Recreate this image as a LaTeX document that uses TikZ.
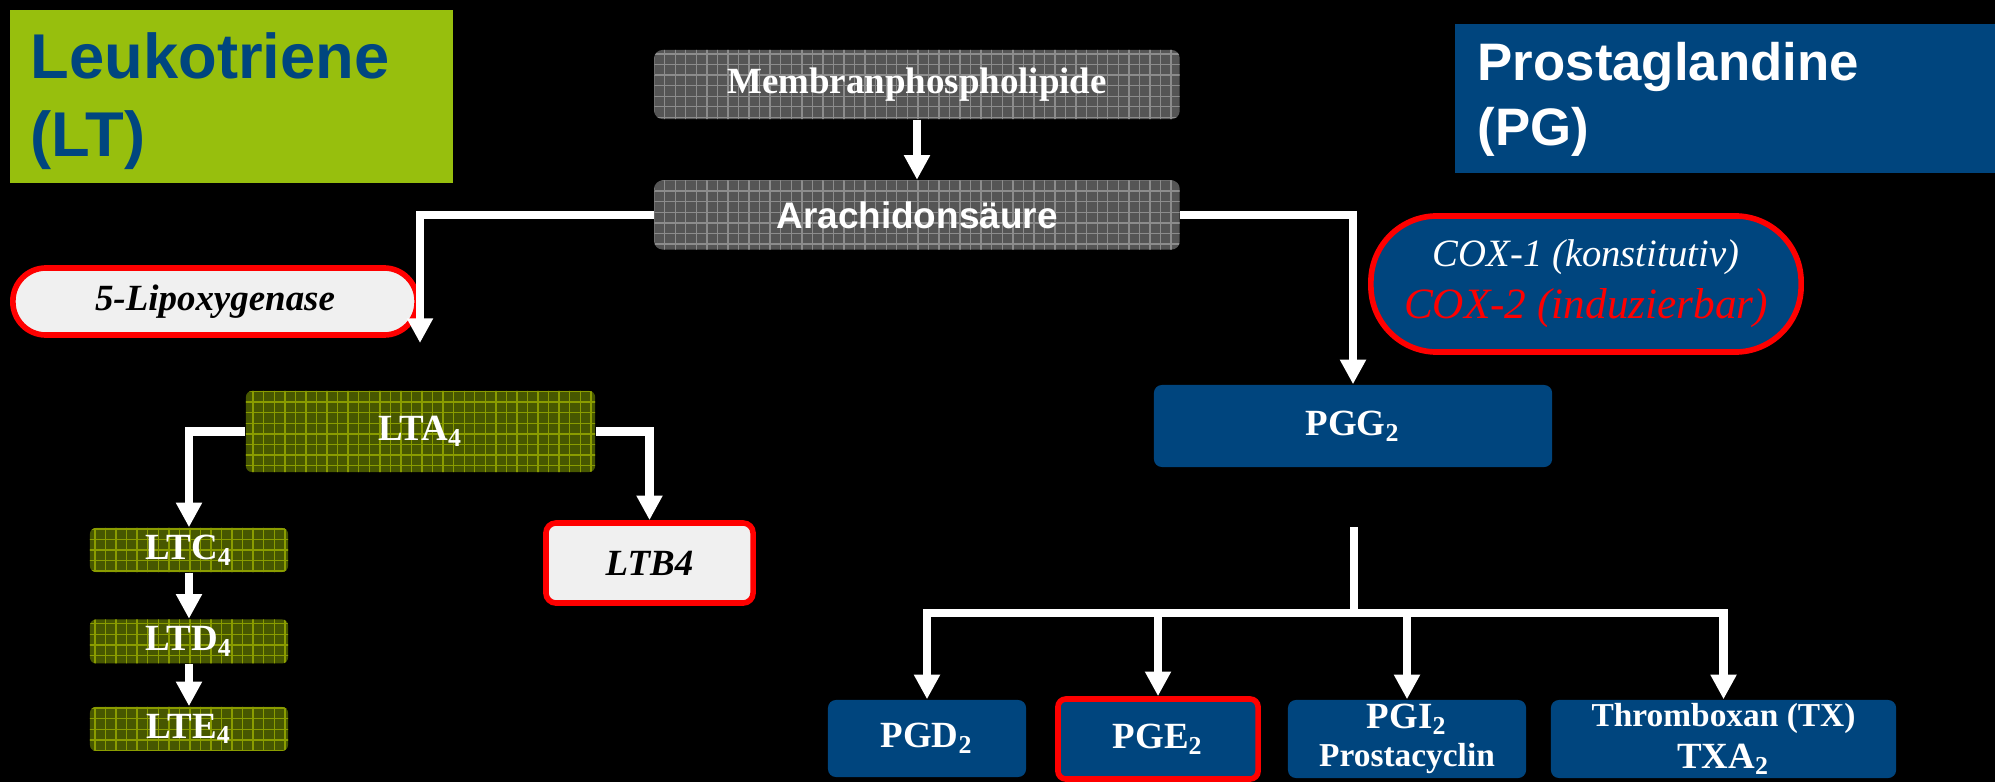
\documentclass[tikz,border=0pt]{standalone}
\usepackage{fontspec}
\setmainfont{Liberation Serif}
\setsansfont{Liberation Sans}
\usetikzlibrary{arrows.meta,patterns,positioning}

\definecolor{ltgreen}{HTML}{97BF0D}
\definecolor{ltblue}{HTML}{00467F}
\definecolor{pgblue}{HTML}{00457E}
\definecolor{ltolive}{HTML}{475700}
\definecolor{olivegrid}{HTML}{8A9C00}
\definecolor{boxgray}{HTML}{555555}
\definecolor{gridgray}{HTML}{8C8C8C}

\begin{document}
\begin{tikzpicture}[x=0.01cm, y=-0.01cm,
    titlebox/.style={rectangle, anchor=north west, align=left, inner ysep=0pt},
    graybox/.style={rectangle, rounded corners=0.08cm, minimum width=5.25cm, minimum height=0.69cm, inner sep=0pt, fill=boxgray, postaction={pattern=grid, pattern color=gridgray}, text=white, font=\bfseries\fontsize{10.5}{12}\selectfont},
    ltbox/.style={rectangle, rounded corners=0.06cm, minimum width=1.98cm, minimum height=0.44cm, inner sep=0pt, fill=ltolive, postaction={pattern=grid, pattern color=olivegrid}, text=white, font=\bfseries\fontsize{10.5}{12}\selectfont},
    pgbox/.style={rectangle, rounded corners=0.08cm, inner sep=0pt, fill=pgblue, text=white, align=center, font=\bfseries\fontsize{10.5}{12}\selectfont},
    enzyme/.style={rectangle, draw=red, line width=1.6pt, fill=gray!12, text=black, inner sep=0pt, font=\bfseries\itshape\fontsize{10.5}{12}\selectfont},
    arrow/.style={-{Triangle[width=7pt,length=7pt]}, draw=white, line width=2.3pt},
    wline/.style={draw=white, line width=2.3pt}
]

% Hintergrund
\path[use as bounding box, fill=black] (0,0) rectangle (1995,782);

% Titel
\node[titlebox, fill=ltgreen, text=ltblue, minimum height=1.73cm, text width=4.01cm, inner xsep=0.21cm,
      font=\sffamily\bfseries\fontsize{18}{22}\selectfont] (lt) at (9,9) {\rule{0pt}{15.8pt}Leukotriene\\(LT)};
\node[titlebox, fill=pgblue, text=white, minimum height=1.49cm, text width=4.95cm, inner xsep=0.23cm,
      font=\sffamily\bfseries\fontsize{15}{18.5}\selectfont] (pg) at (1454,23) {\rule{0pt}{11.5pt}Prostaglandine\\(PG)};

% Ausgangsstoffe
\node[graybox] (mem) at (917,84.5) {Membranphospholipide};
\node[graybox, font=\sffamily\bfseries\fontsize{10.5}{12}\selectfont] (ara) at (917,215) {Arachidonsäure};

% Enzyme
\node[enzyme, rounded corners=0.33cm, minimum width=4.04cm, minimum height=0.67cm] (lox) at (215,301.5) {5-Lipoxygenase};
\node[enzyme, fill=pgblue, text=white, rounded corners=0.66cm, minimum width=4.30cm, minimum height=1.36cm, align=center,
      font=\itshape\fontsize{11}{14.8}\selectfont] (cox) at (1586,284)
      {COX-1 (konstitutiv)\\{\color{red}\fontsize{12.3}{14.8}\selectfont COX-2 (induzierbar)}};

% Leukotriene
\node[ltbox, minimum width=3.49cm, minimum height=0.81cm] (lta) at (420.5,431.5) {LTA\textsubscript{4}};
\node[ltbox] (ltc) at (189,550) {LTC\textsubscript{4}};
\node[ltbox, below=0.46cm of ltc] (ltd) {LTD\textsubscript{4}};
\node[ltbox, below=0.42cm of ltd] (lte) {LTE\textsubscript{4}};
\node[enzyme, rounded corners=0.1cm, minimum width=2.07cm, minimum height=0.80cm] (ltb) at (649.5,563) {LTB4};

% Prostaglandine
\node[pgbox, minimum width=3.98cm, minimum height=0.82cm] (pgg) at (1353,426) {PGG\textsubscript{2}};
\node[pgbox, minimum width=1.98cm, minimum height=0.77cm] (pgd) at (927,738.5) {PGD\textsubscript{2}};
\node[pgbox, draw=red, line width=1.6pt, minimum width=2.0cm, minimum height=0.80cm] (pge) at (1158,739) {PGE\textsubscript{2}};
\node[pgbox, minimum width=2.38cm, minimum height=0.78cm, font=\bfseries\fontsize{10.5}{11}\selectfont] (pgi) at (1407,739)
      {PGI\textsubscript{2}\\{\fontsize{9.5}{11}\selectfont Prostacyclin}};
\node[pgbox, minimum width=3.45cm, minimum height=0.78cm, font=\bfseries\fontsize{10.5}{12}\selectfont] (tx) at (1723.5,739)
      {{\fontsize{9.5}{12}\selectfont Thromboxan (TX)}\\TXA\textsubscript{2}};

% Pfeile
\draw[arrow] (mem) -- (ara);
\coordinate (loxend) at (420,343);
\draw[arrow] (ara.west) -| (loxend);
\draw[arrow] (ara.east) -| (pgg.north);
\draw[arrow] (lta.west) -| (ltc.north);
\draw[arrow] (lta.east) -| (ltb.north);
\draw[arrow] (ltc) -- (ltd);
\draw[arrow] (ltd) -- (lte);
\coordinate (pgstart) at (1354,527);
\coordinate (pgfork) at (1354,613);
\draw[wline] (pgstart) -- (pgfork);
\foreach \n in {pgd,pge,pgi,tx}
  \draw[arrow] (pgfork) -| (\n.north);
\end{tikzpicture}
\end{document}
